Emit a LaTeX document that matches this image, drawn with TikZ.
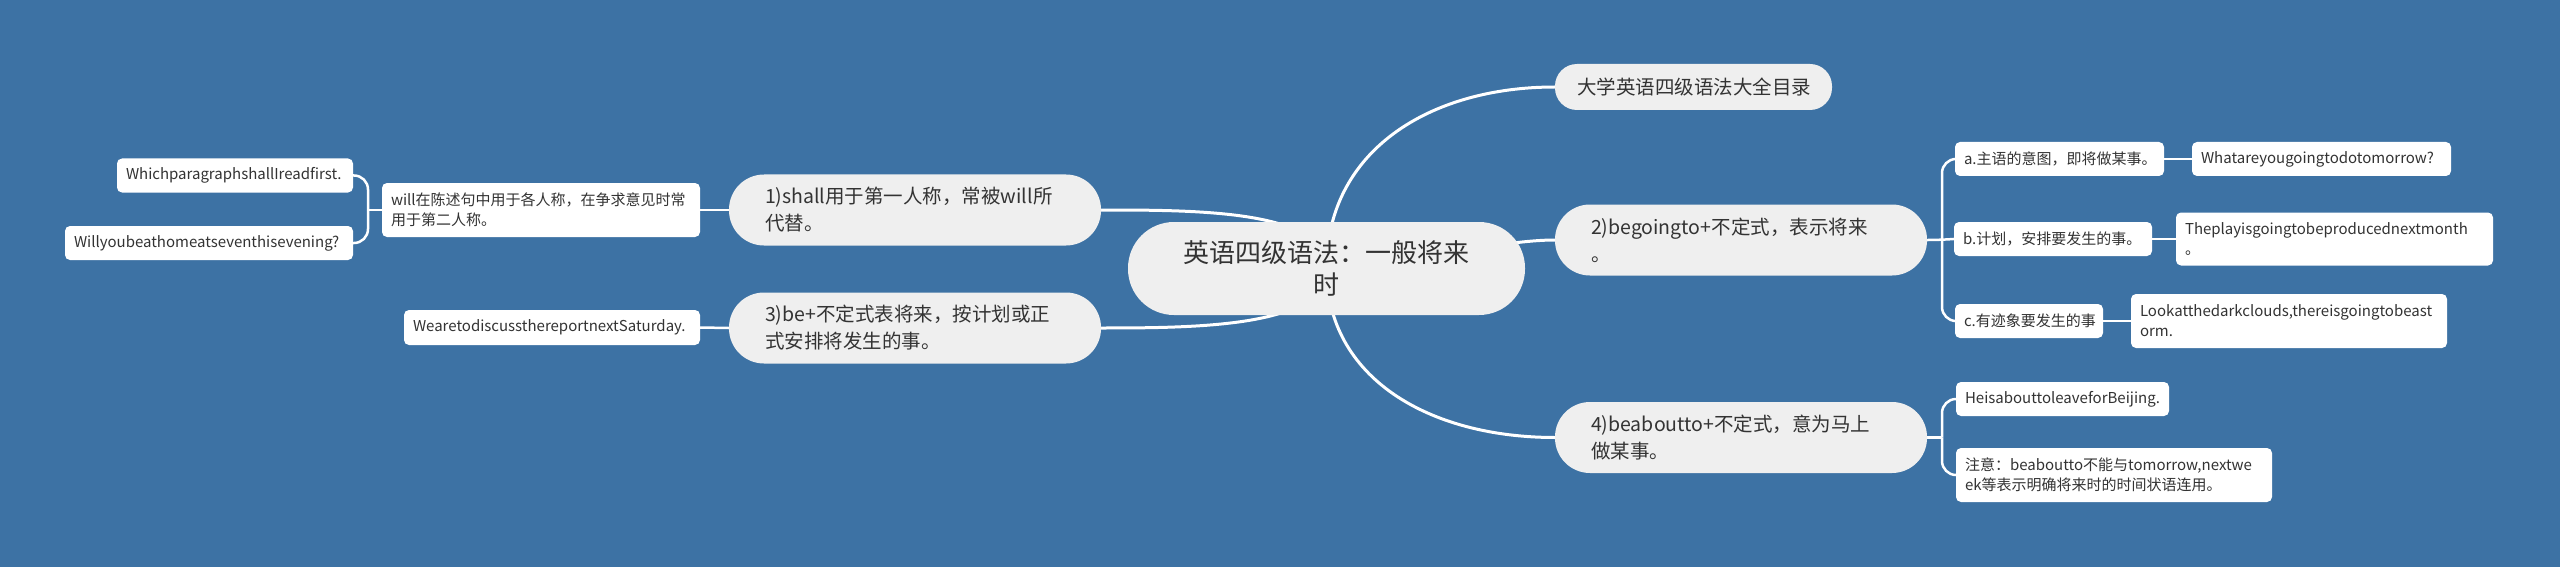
\documentclass[tikz,border=0pt]{standalone}
\usepackage{fontspec}
\setmainfont{Noto Sans CJK SC}
\usepackage{tikz}
\usetikzlibrary{calc}
\definecolor{MapBlue}{HTML}{3D72A4}
\definecolor{PillGray}{HTML}{EFEFEF}
\definecolor{InkGray}{HTML}{333333}
\pgfdeclarelayer{bg}
\pgfsetlayers{bg,main}
\hyphenpenalty=10000
\exhyphenpenalty=10000

\begin{document}
\begin{tikzpicture}[x=1pt, y=-1pt,
    every node/.style={text=InkGray, inner ysep=0pt},
    rootbox/.style={fill=PillGray, rounded corners=46pt, text width=290pt, inner xsep=53.5pt,
      minimum height=93pt, align=center, font=\fontsize{26}{32}\selectfont},
    topicbox/.style={fill=PillGray, rounded corners=35pt, text width=300pt, inner xsep=36pt,
      minimum height=71pt, font=\fontsize{19.5}{27}\selectfont},
    leafbox/.style={fill=white, rounded corners=5pt, inner xsep=9pt, minimum height=34pt,
      font=\fontsize{15}{20}\selectfont},
    link/.style={draw=white, line width=3pt},
    sublink/.style={draw=white, line width=2.5pt, rounded corners=14pt}]

  \begin{pgfonlayer}{bg}
    \fill[MapBlue] (0,0) rectangle (2560,567);
  \end{pgfonlayer}

  % centre and main topics
  \node[rootbox] (root) at (1326.5,268.5) {英语四级语法：一般将来\\时};
  \node[topicbox, rounded corners=22pt, text width=233pt, inner xsep=22pt, minimum height=46pt,
    align=center] (toc) at (1693.5,87) {大学英语四级语法大全目录};
  \node[topicbox] (two) at (1741,240) {2)begoingto+不定式，表示将来\newline 。};
  \node[topicbox] (four) at (1741,437.5) {4)beaboutto+不定式，意为马上\newline 做某事。};
  \node[topicbox] (one) at (915,210) {1)shall用于第一人称，常被will所\newline 代替。};
  \node[topicbox] (three) at (915,328) {3)be+不定式表将来，按计划或正\newline 式安排将发生的事。};

  % left leaves
  \node[leafbox, text width=300pt, minimum height=54pt] (willuse) at (541,210)
    {will在陈述句中用于各人称，在争求意见时常\newline 用于第二人称。};
  \node[leafbox, text width=218pt] (which) at (235,175.5) {WhichparagraphshallIreadfirst.};
  \node[leafbox, text width=270pt] (willyou) at (209,243) {Willyoubeathomeatseventhisevening?};
  \node[leafbox, text width=278pt, minimum height=35pt] (sched) at (552,327.5)
    {WearetodiscussthereportnextSaturday.};

  % right leaves
  \node[leafbox, text width=191pt] (inten) at (2059.5,159) {a.主语的意图，即将做某事。};
  \node[leafbox, text width=241pt] (what) at (2321.5,159) {Whatareyougoingtodotomorrow?};
  \node[leafbox, text width=180pt] (plans) at (2053,239) {b.计划，安排要发生的事。};
  \node[leafbox, text width=299pt, minimum height=53pt] (play) at (2334.5,239)
    {Theplayisgoingtobeproducednextmonth\newline 。};
  \node[leafbox, text width=130pt] (sign) at (2029,321) {c.有迹象要发生的事};
  \node[leafbox, text width=298pt, minimum height=54pt] (look) at (2289,321)
    {Lookatthedarkclouds,thereisgoingtobeast\newline orm.};
  \node[leafbox, text width=195pt] (heis) at (2062.5,399) {HeisabouttoleaveforBeijing.};
  \node[leafbox, text width=298pt, minimum height=54pt] (note) at (2114,475)
    {注意：beaboutto不能与tomorrow,nextwe\newline ek等表示明确将来时的时间状语连用。};

  \coordinate (willfork) at (368,210);
  \coordinate (twofork) at (1942,240);
  \coordinate (fourfork) at (1942,437.5);

  \begin{pgfonlayer}{bg}
    \draw[link] (root.center) .. controls +(0,-118) and +(-125,0) .. (toc.west);
    \draw[link] (root.center) .. controls +(0,110) and +(-125,0) .. (four.west);
    \draw[link] (root.center) .. controls +(60,0) and +(-60,0) .. (two.west);
    \draw[link] (root.center) .. controls +(0,-58) and +(100,0) .. (one.east);
    \draw[link] (root.center) .. controls +(0,58) and +(100,0) .. (three.east);
    \draw[sublink] (willuse.west) -- (willfork);
    \draw[sublink] (two.east) -- (twofork) -- (plans.west);
    \draw[sublink] (four.east) -- (fourfork);
    \foreach \leaf in {which, willyou}
      \draw[sublink] (willfork) |- (\leaf.east);
    \foreach \leaf in {inten, sign}
      \draw[sublink] (twofork) |- (\leaf.west);
    \foreach \leaf in {heis, note}
      \draw[sublink] (fourfork) |- (\leaf.west);
    \foreach \a/\b in {one/willuse, three/sched}
      \draw[sublink] (\a.west) -- (\b.east);
    \foreach \a/\b in {inten/what, plans/play, sign/look}
      \draw[sublink] (\a.east) -- (\b.west);
  \end{pgfonlayer}
\end{tikzpicture}
\end{document}
